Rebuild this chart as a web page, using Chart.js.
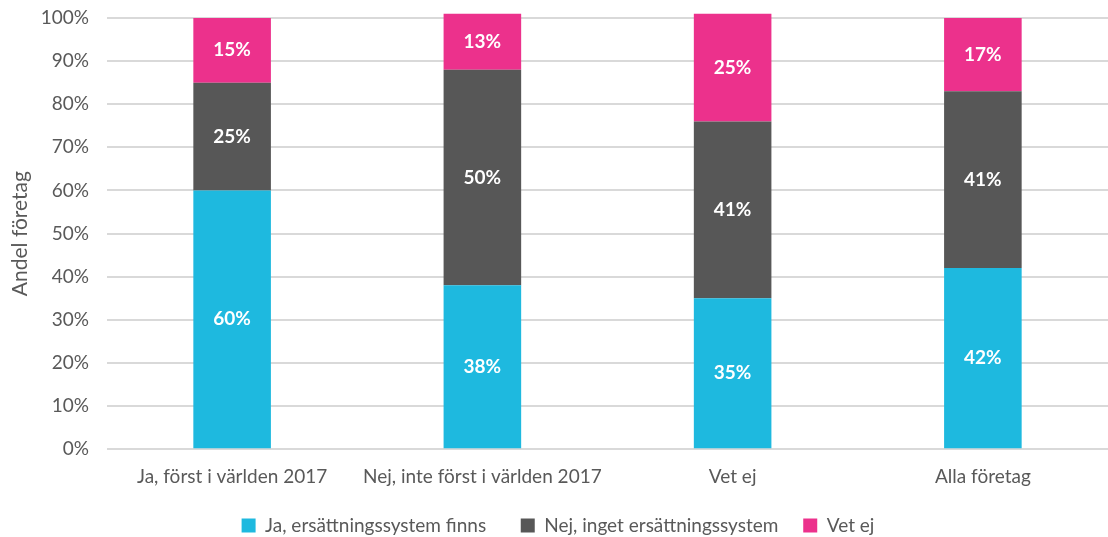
<!DOCTYPE html>
<html>
<head>
<meta charset="utf-8">
<script src="https://cdn.jsdelivr.net/npm/chart.js@4/dist/chart.umd.min.js"></script>
<style>
  html, body { margin: 0; padding: 0; background: #fff; }
  #wrap { width: 1108px; height: 537px; }
</style>
</head>
<body>
<div id="wrap"><canvas id="chart"></canvas></div>
<script>
// Kategorier och värden (andel företag, %)
const kategorier = ["Ja, först i världen 2017", "Nej, inte först i världen 2017", "Vet ej", "Alla företag"];
const jaFinns = [60, 38, 35, 42];
const nejInget = [25, 50, 41, 41];
const vetEj = [15, 13, 25, 17];
const serieNamn = ["Ja, ersättningssystem finns", "Nej, inget ersättningssystem", "Vet ej"];
const yTicks = [0, 10, 20, 30, 40, 50, 60, 70, 80, 90, 100];

const textGra = '#595959';
const typsnitt = 'Lato, "Open Sans", sans-serif';

// Skriver procentsatserna mitt i varje stapelsegment
const etiketter = {
    id: 'etiketter',
    afterDatasetsDraw(chart) {
        const ctx = chart.ctx;
        ctx.save();
        ctx.fillStyle = '#ffffff';
        ctx.font = 'bold 19px ' + typsnitt;
        ctx.textAlign = 'center';
        ctx.textBaseline = 'middle';
        chart.data.datasets.forEach((ds, i) => {
            const meta = chart.getDatasetMeta(i);
            meta.data.forEach((bar, j) => {
                const mitt = (bar.y + bar.base) / 2;
                ctx.fillText(ds.data[j] + '%', bar.x, mitt);
            });
        });
        ctx.restore();
    }
};

// lite extra luft mellan legendposterna (padding styr även höjden)
const extraLuft = ['   ', ' ', ''];

const ctx = document.getElementById('chart').getContext('2d');
new Chart(ctx, {
    type: 'bar',
    data: {
        labels: kategorier,
        datasets: [
            { label: serieNamn[0], data: jaFinns, backgroundColor: '#1EB9DF' },
            { label: serieNamn[1], data: nejInget, backgroundColor: '#575757' },
            { label: serieNamn[2], data: vetEj, backgroundColor: '#EC318C' }
        ].map(ds => Object.assign(ds, {
            barPercentage: 0.62,
            categoryPercentage: 0.5,
            borderWidth: 0,
            clip: false
        }))
    },
    options: {
        responsive: true,
        maintainAspectRatio: false,
        animation: false,
        layout: { padding: { top: 18, right: 0, left: 8, bottom: -8 } },
        plugins: {
            legend: {
                position: 'bottom',
                labels: {
                    color: textGra,
                    font: { family: typsnitt, size: 19 },
                    boxWidth: 14,
                    boxHeight: 14,
                    padding: 20,
                    generateLabels: chart => {
                        const items = Chart.defaults.plugins.legend.labels.generateLabels(chart);
                        items.forEach((it, i) => { it.text = it.text + extraLuft[i]; });
                        return items;
                    }
                }
            },
            tooltip: { enabled: false }
        },
        scales: {
            x: {
                stacked: true,
                grid: { display: false },
                border: { display: false },
                ticks: {
                    color: textGra,
                    font: { family: typsnitt, size: 19 },
                    padding: 8,
                    maxRotation: 0
                }
            },
            y: {
                stacked: true,
                min: 0,
                max: 100,
                afterBuildTicks: axis => { axis.ticks = yTicks.map(v => ({ value: v })); },
                afterFit: axis => {
                    axis.width = 99;
                    axis.paddingTop = 0;
                    axis.paddingBottom = 0;
                },
                grid: { color: '#D9D9D9', lineWidth: 2, drawTicks: false },
                border: { display: false },
                ticks: {
                    color: textGra,
                    font: { family: typsnitt, size: 19 },
                    padding: 18,
                    callback: v => v + '%'
                },
                title: {
                    display: true,
                    text: 'Andel företag',
                    color: textGra,
                    font: { family: typsnitt, size: 21 },
                    padding: { top: 0, bottom: 0 }
                }
            }
        }
    },
    plugins: [etiketter]
});
</script>
</body>
</html>
